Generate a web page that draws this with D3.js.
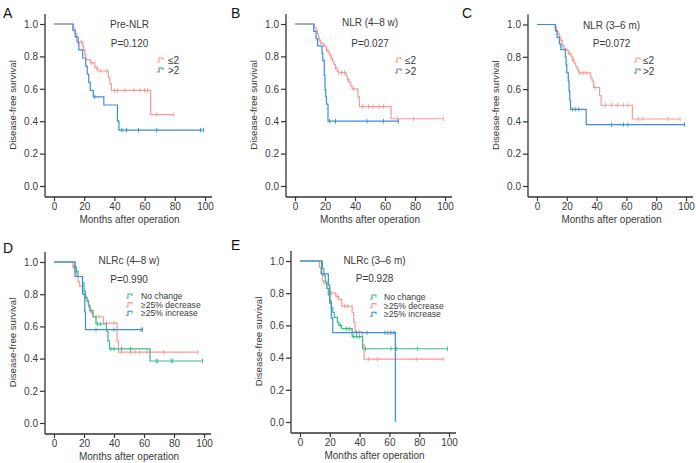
<!DOCTYPE html>
<html><head><meta charset="utf-8">
<script src="https://cdn.jsdelivr.net/npm/d3@7"></script>
<style>
body{margin:0;background:#fff;}
svg{display:block;font-family:"Liberation Sans",Arial,Helvetica,sans-serif;}
</style></head><body>
<svg id="chart" width="696" height="463"></svg>
<script>
// ---------- DATA ----------
const xTicks = [0, 20, 40, 60, 80, 100];
const yTicks = [0, 0.2, 0.4, 0.6, 0.8, 1.0];
const xTitle = "Months after operation";
const yTitle = "Disease-free survival";

const panelLetters = ["A", "B", "C", "D", "E"];
const panelTitles = ["Pre-NLR", "NLR (4–8 w)", "NLR (3–6 m)", "NLRc (4–8 w)", "NLRc (3–6 m)"];
const panelPvalues = ["P=0.120", "P=0.027", "P=0.072", "P=0.990", "P=0.928"];
const groupsTwo = ["≤2", ">2"];
const groupsThree = ["No change", "≥25% decrease", "≥25% increase"];

// Panel A
const A_low_t = [13, 14, 15, 19, 19.5, 20.5, 21, 24, 27, 29, 36, 37, 38, 64];
const A_low_s = [0.97, 0.94, 0.89, 0.87, 0.84, 0.81, 0.78, 0.76, 0.73, 0.71, 0.67, 0.63, 0.59, 0.44];
const A_low_c = [16, 18, 25, 28, 31, 35, 40, 42, 47, 53, 57, 60, 62, 68, 79];
const A_high_t = [12.5, 14, 16, 16.5, 19, 21, 22, 23, 24, 26, 33, 42, 43];
const A_high_s = [0.96, 0.92, 0.88, 0.84, 0.79, 0.74, 0.69, 0.64, 0.59, 0.55, 0.50, 0.40, 0.345];
const A_high_c = [27, 45, 48, 56, 68, 97, 99];
// Panel B
const B_low_t = [13, 14, 15, 15.5, 16, 17, 19, 20, 21, 22, 23, 24, 25, 26, 27, 28, 29, 34, 35, 36, 37, 38, 42, 43, 64];
const B_low_s = [0.98, 0.96, 0.94, 0.92, 0.90, 0.88, 0.87, 0.86, 0.84, 0.83, 0.81, 0.79, 0.77, 0.75, 0.73, 0.71, 0.70, 0.68, 0.66, 0.64, 0.62, 0.60, 0.55, 0.49, 0.415];
const B_low_c = [16, 19, 21, 24, 27, 29, 31, 33, 35, 39, 45, 49, 52, 56, 59, 68, 79, 99];
const B_high_t = [12.5, 14, 15, 18, 18.5, 19.5, 20, 20.5, 21, 22];
const B_high_s = [0.955, 0.91, 0.865, 0.82, 0.775, 0.685, 0.595, 0.55, 0.505, 0.40];
const B_high_c = [23, 27, 48, 59, 69];
// Panel C
const C_low_t = [12, 13, 14, 15, 16, 17, 18, 20, 21, 23, 24, 25, 26, 27, 28, 36, 37, 38, 42, 43, 64];
const C_low_s = [0.98, 0.96, 0.94, 0.92, 0.90, 0.87, 0.85, 0.84, 0.82, 0.80, 0.78, 0.76, 0.74, 0.72, 0.70, 0.67, 0.65, 0.61, 0.56, 0.50, 0.415];
const C_low_c = [17, 22, 24, 29, 31, 33, 39, 46, 50, 54, 58, 61, 68, 71, 88, 96];
const C_high_t = [12.5, 13.5, 15, 16, 19, 19.5, 20, 21, 21.5, 22, 22.5, 33];
const C_high_s = [0.96, 0.92, 0.88, 0.845, 0.80, 0.75, 0.70, 0.65, 0.59, 0.53, 0.475, 0.38];
const C_high_c = [24, 26, 28, 50, 58, 61, 99];
// Panel D
const D_none_t = [14, 15, 16, 19, 20, 21, 22, 23, 24, 26, 28, 35, 36, 37, 64];
const D_none_s = [0.97, 0.94, 0.91, 0.87, 0.82, 0.78, 0.76, 0.73, 0.70, 0.66, 0.615, 0.57, 0.51, 0.46, 0.385];
const D_none_c = [29, 31, 38, 40, 45, 51, 68, 69, 78, 79, 99];
const D_dec_t = [12.5, 14, 15, 16, 17, 19, 20, 21, 22, 23, 24, 26, 33, 42, 43];
const D_dec_s = [0.97, 0.94, 0.91, 0.88, 0.85, 0.82, 0.80, 0.78, 0.75, 0.72, 0.69, 0.66, 0.62, 0.505, 0.44];
const D_dec_c = [13, 21, 25, 28, 30, 35, 40, 45, 51, 54, 57, 62, 73, 96];
const D_inc_t = [14, 19, 20.5, 21];
const D_inc_s = [0.91, 0.80, 0.69, 0.58];
const D_inc_c = [28, 40, 58, 59];
// Panel E
const E_none_t = [15, 16, 17, 18, 19, 20, 21, 22, 23, 25, 26, 28, 35, 42];
const E_none_s = [0.955, 0.91, 0.87, 0.83, 0.79, 0.75, 0.71, 0.68, 0.65, 0.62, 0.60, 0.58, 0.53, 0.455];
const E_none_c = [20, 27, 31, 33, 36, 38, 40, 44, 61, 65, 79, 99];
const E_dec_t = [13, 14, 15, 16, 18, 20, 24, 26, 28, 35, 36, 37, 42, 43];
const E_dec_s = [0.96, 0.92, 0.88, 0.86, 0.83, 0.80, 0.78, 0.76, 0.72, 0.68, 0.62, 0.56, 0.48, 0.39];
const E_dec_c = [21, 25, 30, 32, 40, 46, 52, 78, 96];
const E_inc_t = [14.5, 19, 20, 21, 22, 64];
const E_inc_s = [0.92, 0.85, 0.74, 0.645, 0.555, 0];
const E_inc_c = [38, 45, 57, 59, 61, 63];

// ---------- STYLE / LAYOUT ----------
const RED = "#F59A96", BLUE = "#3A8ED8", GREEN = "#34BC8A";
const AXIS = "#333";
const TXT = "#3a3a3a";

const layout = [
  {x0: 54,  x1: 205, yT: 24,  yB: 186, lx: 3,   ly: 18,  tY: 24,  pY: 43,  legX: 157, legY: 60,  legDy: 10, legFs: 10, legTx: 168},
  {x0: 295, x1: 445, yT: 24,  yB: 186, lx: 231, ly: 18,  tY: 22,  pY: 43,  legX: 395, legY: 60,  legDy: 11, legFs: 10, legTx: 405},
  {x0: 537, x1: 686, yT: 24.5,yB: 186, lx: 462, ly: 18,  tY: 25,  pY: 43,  legX: 634, legY: 60,  legDy: 11, legFs: 10, legTx: 643},
  {x0: 54,  x1: 204, yT: 262, yB: 423, lx: 3,   ly: 253, tY: 260, pY: 279, legX: 126, legY: 296, legDy: 8.6, legFs: 8.6, legTx: 141},
  {x0: 300, x1: 449, yT: 261, yB: 422, lx: 231, ly: 250, tY: 260, pY: 278, legX: 370, legY: 297, legDy: 8.6, legFs: 8.6, legTx: 384}
];

const series = [
  [{t: A_low_t, s: A_low_s, c: A_low_c, col: RED}, {t: A_high_t, s: A_high_s, c: A_high_c, col: BLUE}],
  [{t: B_low_t, s: B_low_s, c: B_low_c, col: RED}, {t: B_high_t, s: B_high_s, c: B_high_c, col: BLUE}],
  [{t: C_low_t, s: C_low_s, c: C_low_c, col: RED}, {t: C_high_t, s: C_high_s, c: C_high_c, col: BLUE}],
  [{t: D_dec_t, s: D_dec_s, c: D_dec_c, col: RED}, {t: D_none_t, s: D_none_s, c: D_none_c, col: GREEN}, {t: D_inc_t, s: D_inc_s, c: D_inc_c, col: BLUE}],
  [{t: E_dec_t, s: E_dec_s, c: E_dec_c, col: RED}, {t: E_none_t, s: E_none_s, c: E_none_c, col: GREEN}, {t: E_inc_t, s: E_inc_s, c: E_inc_c, col: BLUE}]
];
const legends = [
  [[groupsTwo[0], RED], [groupsTwo[1], BLUE]],
  [[groupsTwo[0], RED], [groupsTwo[1], BLUE]],
  [[groupsTwo[0], RED], [groupsTwo[1], BLUE]],
  [[groupsThree[0], GREEN], [groupsThree[1], RED], [groupsThree[2], BLUE]],
  [[groupsThree[0], GREEN], [groupsThree[1], RED], [groupsThree[2], BLUE]]
];

const svg = d3.select("#chart");

function survAt(t, s, time) {
  let v = 1;
  for (let i = 0; i < t.length; i++) if (t[i] <= time) v = s[i];
  return v;
}

layout.forEach((L, pi) => {
  const g = svg.append("g");
  const x = d3.scaleLinear().domain([0, 100]).range([L.x0, L.x1]);
  const y = d3.scaleLinear().domain([0, 1]).range([L.yB, L.yT]);
  const axX = L.x0 - 9, axY = L.yB + 11;

  // axes
  const ya = g.append("g").attr("transform", `translate(${axX},0)`)
    .call(d3.axisLeft(y).tickValues(yTicks).tickFormat(d3.format(".1f")).tickSize(5).tickPadding(2));
  ya.select(".domain").remove();
  const xa = g.append("g").attr("transform", `translate(0,${axY})`)
    .call(d3.axisBottom(x).tickValues(xTicks).tickFormat(d3.format("d")).tickSize(4).tickPadding(2));
  xa.select(".domain").remove();
  [ya, xa].forEach(a => {
    a.selectAll("line").attr("stroke", AXIS).attr("stroke-width", 1.2);
    a.selectAll("text").attr("fill", TXT).style("font-size", "10px")
      .style("font-family", '"Liberation Sans",Arial,sans-serif');
  });
  g.append("line").attr("x1", axX).attr("x2", axX).attr("y1", L.yT - 10).attr("y2", axY)
    .attr("stroke", AXIS).attr("stroke-width", 1.3);
  g.append("line").attr("x1", axX).attr("x2", x(100) + 7).attr("y1", axY).attr("y2", axY)
    .attr("stroke", AXIS).attr("stroke-width", 1.3);

  // axis titles
  g.append("text").attr("x", (L.x0 + L.x1) / 2).attr("y", axY + 26)
    .attr("text-anchor", "middle").attr("fill", TXT).style("font-size", "10px").text(xTitle);
  g.append("text").attr("transform", `translate(${axX - 29},${(L.yT + L.yB) / 2}) rotate(-90)`)
    .attr("text-anchor", "middle").attr("fill", TXT).style("font-size", "9.6px").text(yTitle);

  // letter
  g.append("text").attr("x", L.lx).attr("y", L.ly).attr("fill", "#111").style("font-size", "14px").text(panelLetters[pi]);
  // titles
  g.append("text").attr("x", (L.x0 + L.x1) / 2).attr("y", L.tY).attr("dy", "0.35em")
    .attr("text-anchor", "middle").attr("fill", TXT).style("font-size", "10px").text(panelTitles[pi]);
  g.append("text").attr("x", (L.x0 + L.x1) / 2).attr("y", L.pY).attr("dy", "0.35em")
    .attr("text-anchor", "middle").attr("fill", TXT).style("font-size", "10px").text(panelPvalues[pi]);

  // curves
  series[pi].forEach(S => {
    const end = Math.max(d3.max(S.c), d3.max(S.t));
    const pts = [[0, 1]];
    let cur = 1;
    S.t.forEach((tt, i) => { pts.push([tt, cur]); pts.push([tt, S.s[i]]); cur = S.s[i]; });
    pts.push([end, cur]);
    const line = d3.line().x(d => x(d[0])).y(d => y(d[1]));
    g.append("path").attr("d", line(pts)).attr("fill", "none").attr("stroke", S.col).attr("stroke-width", 1.2);
    g.selectAll(null).data(S.c).enter().append("line")
      .attr("x1", d => x(d)).attr("x2", d => x(d))
      .attr("y1", d => y(survAt(S.t, S.s, d)) - 2.2).attr("y2", d => y(survAt(S.t, S.s, d)) + 2.2)
      .attr("stroke", S.col).attr("stroke-width", 0.9);
  });

  // legend
  legends[pi].forEach((lg, i) => {
    const ly = L.legY + i * L.legDy;
    g.append("path").attr("d", `M${L.legX},${ly + 2} h2 v-4 h4 v2`)
      .attr("fill", "none").attr("stroke", lg[1]).attr("stroke-width", 1.1);
    g.append("text").attr("x", L.legTx).attr("y", ly).attr("dy", "0.35em")
      .attr("fill", TXT).style("font-size", L.legFs + "px").text(lg[0]);
  });
});
</script>
</body></html>
